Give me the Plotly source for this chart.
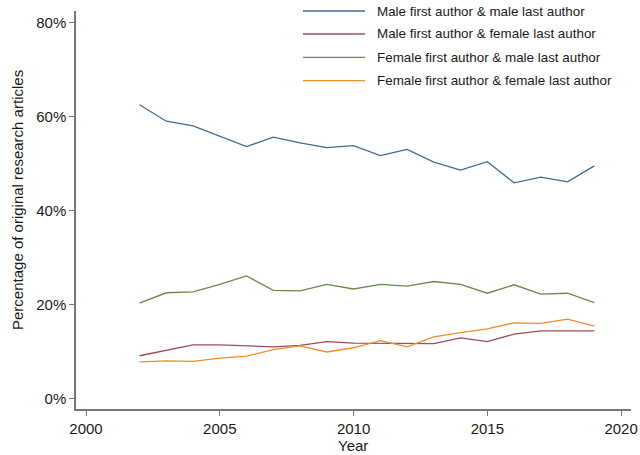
import plotly.graph_objects as go

years = list(range(2002, 2020))
male_male = [62.6, 59.1, 58.1, 55.9, 53.7, 55.7, 54.5, 53.5, 53.9, 51.8, 53.1, 50.4, 48.7, 50.5, 46.0, 47.2, 46.2, 49.6]
male_female = [9.2, 10.4, 11.5, 11.5, 11.3, 11.1, 11.4, 12.2, 11.9, 11.9, 11.8, 11.8, 13.0, 12.2, 13.8, 14.5, 14.5, 14.5]
female_male = [20.4, 22.6, 22.8, 24.4, 26.2, 23.1, 23.0, 24.4, 23.4, 24.4, 24.0, 25.0, 24.4, 22.5, 24.3, 22.3, 22.5, 20.5]
female_female = [7.9, 8.1, 8.0, 8.7, 9.1, 10.5, 11.3, 10.0, 10.9, 12.4, 11.1, 13.2, 14.1, 14.9, 16.2, 16.1, 17.0, 15.5]

series_names = [
    "Male first author & male last author",
    "Male first author & female last author",
    "Female first author & male last author",
    "Female first author & female last author",
]
series_values = [male_male, male_female, female_male, female_female]
colors = ["#456a90", "#a34b58", "#6a8a4b", "#ee8f28"]

x_ticks = [2000, 2005, 2010, 2015, 2020]
y_ticks = [0, 20, 40, 60, 80]
y_tick_labels = ["0%", "20%", "40%", "60%", "80%"]

fig = go.Figure()
for name, vals, c in zip(series_names, series_values, colors):
    fig.add_trace(go.Scatter(x=years, y=vals, mode="lines", name=name,
                             line=dict(color=c, width=1.3), showlegend=False))

W, H = 640, 455
ml, mr, mt, mb = 76, 9, 11, 46
pw, ph = W - ml - mr, H - mt - mb

# manual legend (paper coords)
leg_rows_px = [11, 34, 57.3, 80.7]
for name, c, ypx in zip(series_names, colors, leg_rows_px):
    yp = 1 - (ypx - mt) / ph
    x0 = (303 - ml) / pw
    x1 = (365 - ml) / pw
    xt = (375 - ml) / pw
    fig.add_shape(type="line", xref="paper", yref="paper", x0=x0, x1=x1, y0=yp, y1=yp,
                  line=dict(color=c, width=1.3))
    fig.add_annotation(xref="paper", yref="paper", x=xt, y=yp, text=name, showarrow=False,
                       xanchor="left", yanchor="middle", font=dict(size=13.4, color="#1a1a1a"))

# axis titles
fig.add_annotation(xref="paper", yref="paper", x=(353 - ml) / pw, y=-(446 - (H - mb)) / ph,
                   text="Year", showarrow=False, xanchor="center", yanchor="middle",
                   font=dict(size=15, color="#1a1a1a"))
fig.add_annotation(xref="paper", yref="paper", x=-(ml - 17) / pw, y=1 - (200 - mt) / ph,
                   text="Percentage of original research articles", showarrow=False,
                   textangle=-90, xanchor="center", yanchor="middle",
                   font=dict(size=15, color="#1a1a1a"))

fig.update_layout(
    width=W, height=H,
    margin=dict(l=ml, r=mr, t=mt, b=mb),
    paper_bgcolor="white", plot_bgcolor="white",
    font=dict(family="Liberation Sans, Arial, sans-serif", color="#1a1a1a"),
    xaxis=dict(range=[1999.625, 2020.37], tickvals=x_ticks, ticks="outside", ticklen=5,
               tickcolor="#777", showline=True, linecolor="#777", linewidth=1.5,
               showgrid=False, zeroline=False, tickfont=dict(size=15), automargin=False),
    yaxis=dict(range=[-2.13, 82.55], tickvals=y_ticks, ticktext=y_tick_labels,
               ticks="outside", ticklen=5, tickcolor="#777", showline=True,
               linecolor="#777", linewidth=1.5, showgrid=False, zeroline=False,
               tickfont=dict(size=15), automargin=False),
)

fig.write_html("out.html", config={"displayModeBar": False},
               post_script="document.body.style.margin='0';")
